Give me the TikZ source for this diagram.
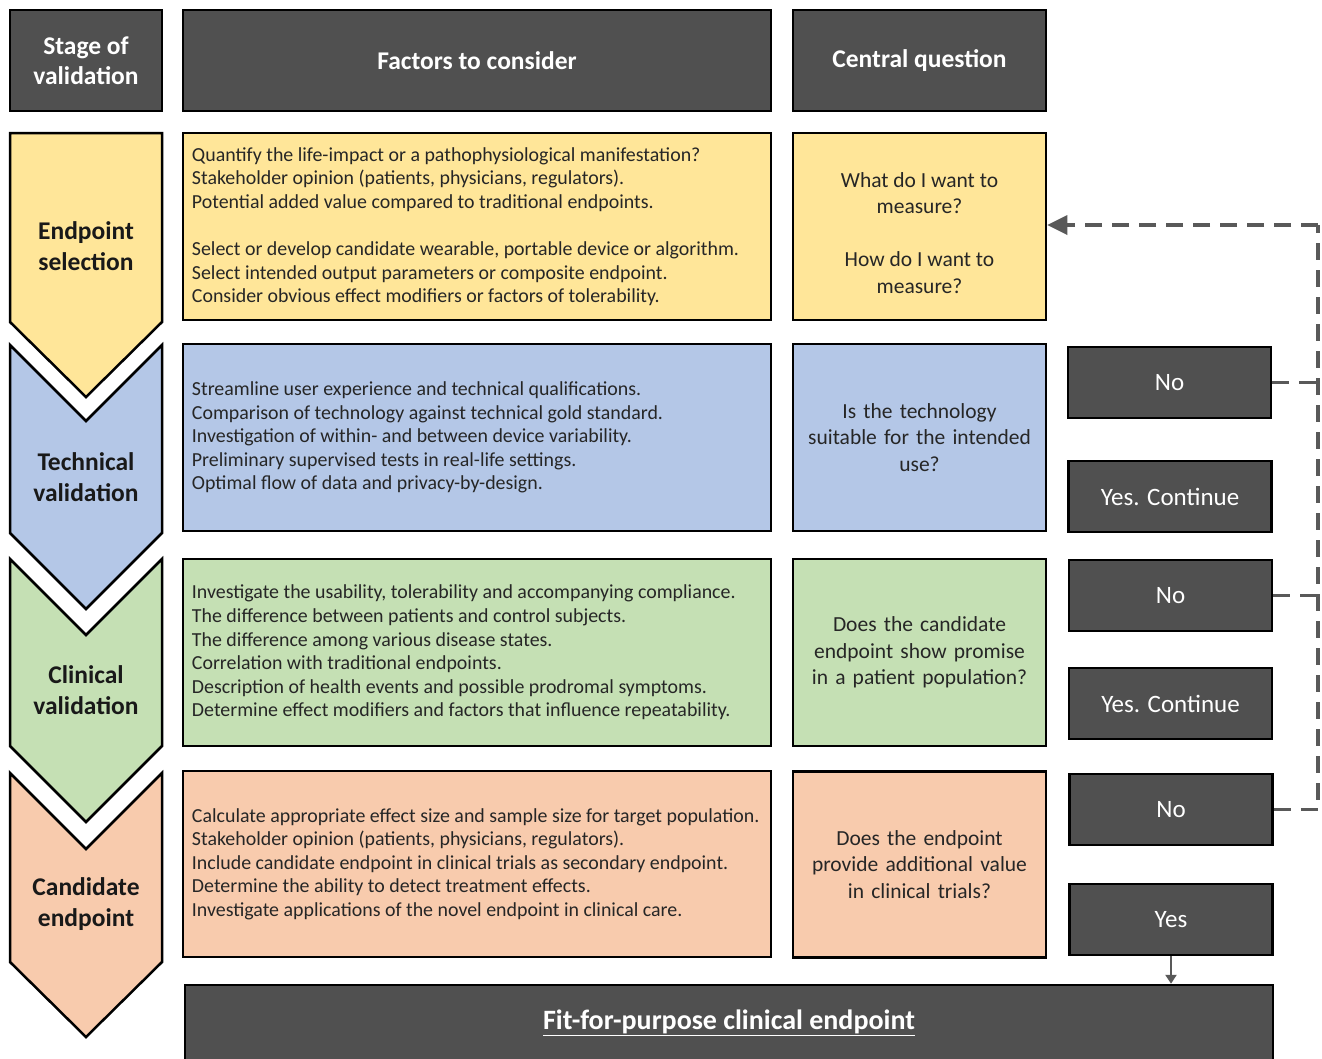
\documentclass[tikz,border=0pt]{standalone}
\usepackage{fontspec}
\setmainfont{Carlito}
\usetikzlibrary{arrows.meta}
\definecolor{hdr}{HTML}{505050}
\definecolor{yel}{HTML}{FFE699}
\definecolor{blu}{HTML}{B4C7E7}
\definecolor{grn}{HTML}{C5E0B4}
\definecolor{org}{HTML}{F8CBAD}
\definecolor{txt}{HTML}{262626}
\definecolor{dashc}{HTML}{595959}
\begin{document}
\begin{tikzpicture}[x=1pt,y=-1pt,
  box/.style={draw=black, line width=2.5pt, inner sep=0pt},
  hdrbox/.style={box, fill=hdr, text=white, align=center,
    font=\fontsize{25.5}{30}\selectfont\bfseries},
  factbox/.style={box, minimum width=588pt, minimum height=187pt},
  facttxt/.style={anchor=west, inner sep=0pt, align=left, text=txt,
    font=\fontsize{19.9}{23.6}\selectfont},
  centbox/.style={box, minimum width=253pt, minimum height=187pt,
    text width=248pt, align=center, text=txt,
    font=\fontsize{21.5}{26.6}\selectfont},
  ansbox/.style={box, fill=hdr, minimum width=203pt, minimum height=71pt,
    text=white, font=\fontsize{25}{30}\selectfont},
  chev/.style={draw=black, line width=2.5pt, line join=miter},
  stagelbl/.style={align=center, text=black!90,
    font=\fontsize{25.5}{30.5}\selectfont\bfseries},
  dashln/.style={draw=dashc, line width=3.5pt, dash pattern=on 17pt off 10pt},
]
\useasboundingbox (0,0) rectangle (1322,1058);

% headers
\node[hdrbox, minimum width=152pt, minimum height=101pt] (hstage) at (86,60.5) {Stage of\\validation};
\node[hdrbox, minimum width=588pt, minimum height=101pt] (hfact) at (477,60.5) {Factors to consider};
\node[hdrbox, minimum width=253pt, minimum height=101pt] (hcent) at (919.5,60.5) {Central question};

% chevrons
\fill[yel] (10,133) -- (162,133) -- (162,322) -- (86,397) -- (10,322) -- cycle;
\draw[chev] (10,133) -- (162,133) -- (162,322) -- (86,397) -- (10,322) -- cycle;
\fill[blu] (10,345) -- (86,421) -- (162,345) -- (162,533) -- (86,609) -- (10,533) -- cycle;
\draw[chev] (10,345) -- (86,421) -- (162,345) -- (162,533) -- (86,609) -- (10,533) -- cycle;
\fill[grn] (10,559) -- (86,635) -- (162,559) -- (162,746) -- (86,822) -- (10,746) -- cycle;
\draw[chev] (10,559) -- (86,635) -- (162,559) -- (162,746) -- (86,822) -- (10,746) -- cycle;
\fill[org] (10,773) -- (86,849) -- (162,773) -- (162,962) -- (86,1037) -- (10,962) -- cycle;
\draw[chev] (10,773) -- (86,849) -- (162,773) -- (162,962) -- (86,1037) -- (10,962) -- cycle;

\node[stagelbl] (s1) at (86,246) {Endpoint\\selection};
\node[stagelbl] (s2) at (86,477) {Technical\\validation};
\node[stagelbl] (s3) at (86,690) {Clinical\\validation};
\node[stagelbl] (s4) at (86,904) {Candidate\\endpoint};

% factor boxes
\node[factbox, fill=yel] (f1) at (477,226.5) {};
\node[factbox, fill=blu] (f2) at (477,437.5) {};
\node[factbox, fill=grn] (f3) at (477,652.5) {};
\node[factbox, fill=org, minimum height=186pt] (f4) at (477,864) {};

\node[facttxt] (f1t) at ([xshift=10pt]f1.west) {Quantify the life-impact or a pathophysiological manifestation?\\
Stakeholder opinion (patients, physicians, regulators).\\
Potential added value compared to traditional endpoints.\\[23.6pt]
Select or develop candidate wearable, portable device or algorithm.\\
Select intended output parameters or composite endpoint.\\
Consider obvious effect modifiers or factors of tolerability.};
\node[facttxt] (f2t) at ([xshift=10pt]f2.west) {Streamline user experience and technical qualifications.\\
Comparison of technology against technical gold standard.\\
Investigation of within- and between device variability.\\
Preliminary supervised tests in real-life settings.\\
Optimal flow of data and privacy-by-design.};
\node[facttxt] (f3t) at ([xshift=10pt]f3.west) {Investigate the usability, tolerability and accompanying compliance.\\
The difference between patients and control subjects.\\
The difference among various disease states.\\
Correlation with traditional endpoints.\\
Description of health events and possible prodromal symptoms.\\
Determine effect modifiers and factors that influence repeatability.};
\node[facttxt] (f4t) at ([xshift=10pt]f4.west) {Calculate appropriate effect size and sample size for target population.\\
Stakeholder opinion (patients, physicians, regulators).\\
Include candidate endpoint in clinical trials as secondary endpoint.\\
Determine the ability to detect treatment effects.\\
Investigate applications of the novel endpoint in clinical care.};

% central question boxes
\node[centbox, fill=yel] (c1) at (919.5,226.5) {};
\node[align=center, text=txt, font=\fontsize{21.5}{26.6}\selectfont] (c1t) at (919.5,233) {What do I want to\\measure?\\[26.6pt]How do I want to\\measure?};
\node[centbox, fill=blu] (c2) at (919.5,437.5) {Is the technology\\suitable for the intended\\use?};
\node[centbox, fill=grn] (c3) at (919.5,652.5) {Does the candidate\\endpoint show promise\\in a patient population?};
\node[centbox, fill=org, minimum height=186pt] (c4) at (919.5,864.5) {Does the endpoint\\provide additional value\\in clinical trials?};

% answer boxes
\node[ansbox] (no1) at (1169.5,382.5) {No};
\node[ansbox] (yes1) at (1170,496.5) {Yes. Continue};
\node[ansbox] (no2) at (1170.5,595.5) {No};
\node[ansbox] (yes2) at (1170.5,703.5) {Yes. Continue};
\node[ansbox] (no3) at (1171,809.5) {No};
\node[ansbox] (yes3) at (1171,919.5) {Yes};

% final box
\node[box, fill=hdr, minimum width=1088pt, minimum height=76pt, text=white,
  font=\fontsize{28}{32}\selectfont\bfseries] (final) at (729,1023) {\underline{Fit-for-purpose clinical endpoint}};

% dashed feedback
\coordinate (rt) at (1318,225);
\draw[dashln] (no3.east) -| (rt);
\draw[dashln, -{Triangle[length=20pt,width=19pt]}] (rt) -- ([yshift=1.5pt]c1.east);
\draw[dashln] (no1.east) -- (no1.east -| rt);
\draw[dashln] (no2.east) -- (no2.east -| rt);

% yes arrow
\draw[draw=dashc, line width=2.5pt, -{Triangle[length=9pt,width=11pt]}] (yes3.south) -- (final.north -| yes3.south);
\end{tikzpicture}
\end{document}
